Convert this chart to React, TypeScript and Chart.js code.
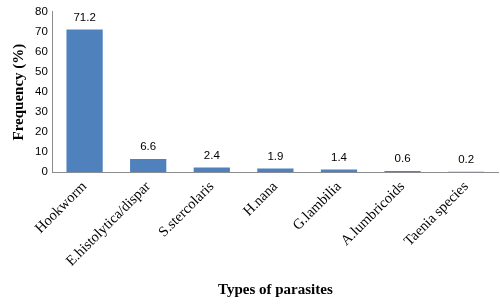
import React, { useEffect, useRef } from "react";
import { Chart, registerables } from "chart.js";

Chart.register(...registerables);

const categories = [
  "Hookworm",
  "E.histolytica/dispar",
  "S.stercolaris",
  "H.nana",
  "G.lambilia",
  "A.lumbricoids",
  "Taenia species",
];
const frequencies = [71.2, 6.6, 2.4, 1.9, 1.4, 0.6, 0.2];
const yTicks = [0, 10, 20, 30, 40, 50, 60, 70, 80];

const valueLabels = {
  id: "valueLabels",
  afterDatasetsDraw(chart: any) {
    const ctx = chart.ctx;
    const meta = chart.getDatasetMeta(0);
    ctx.save();
    ctx.font = "11.5px 'Liberation Sans', Arial, sans-serif";
    ctx.fillStyle = "#000";
    ctx.textAlign = "center";
    ctx.textBaseline = "bottom";
    meta.data.forEach((bar: any, i: number) => {
      ctx.fillText(frequencies[i].toFixed(1), bar.x, bar.y - 6);
    });
    ctx.restore();
  },
};

export default function App() {
  const ref = useRef<HTMLCanvasElement>(null);
  useEffect(() => {
    document.body.style.margin = "0";
    const chart = new Chart(ref.current!, {
      type: "bar",
      data: {
        labels: categories,
        datasets: [
          {
            data: frequencies,
            backgroundColor: "#4F81BD",
            borderWidth: 0,
            categoryPercentage: 1,
            barPercentage: 0.57,
          },
        ],
      },
      options: {
        animation: false,
        responsive: false,
        layout: { padding: { top: -1, right: 2, left: 10, bottom: 6 } },
        plugins: { legend: { display: false }, tooltip: { enabled: false } },
        scales: {
          x: {
            grid: { display: false, drawTicks: false },
            border: { display: true, color: "#8c8c8c", width: 1 },
            ticks: {
              color: "#000",
              font: { family: "'Liberation Serif', 'Times New Roman', serif", size: 14.5 },
              minRotation: 45,
              maxRotation: 45,
              padding: 6,
            },
            title: {
              display: true,
              text: "Types of parasites",
              color: "#000",
              font: { family: "'Liberation Serif', 'Times New Roman', serif", size: 15, weight: "bold" },
              padding: { top: 5, bottom: 0 },
            },
          },
          y: {
            min: 0,
            max: 80,
            afterBuildTicks: (axis: any) => {
              axis.ticks = yTicks.map((v) => ({ value: v }));
            },
            grid: { display: false, drawTicks: false },
            border: { display: true, color: "#8c8c8c", width: 1 },
            ticks: {
              color: "#000",
              font: { family: "'Liberation Sans', Arial, sans-serif", size: 11.5 },
              padding: 5,
            },
            title: {
              display: true,
              text: "Frequency (%)",
              color: "#000",
              font: { family: "'Liberation Serif', 'Times New Roman', serif", size: 15, weight: "bold" },
              padding: { top: 0, bottom: 2 },
            },
          },
        },
      },
      plugins: [valueLabels],
    });
    return () => chart.destroy();
  }, []);
  return (
    <div style={{ position: "absolute", left: 0, top: 0, width: 500, height: 305, background: "#fff" }}>
      <canvas ref={ref} width={500} height={305} />
    </div>
  );
}
